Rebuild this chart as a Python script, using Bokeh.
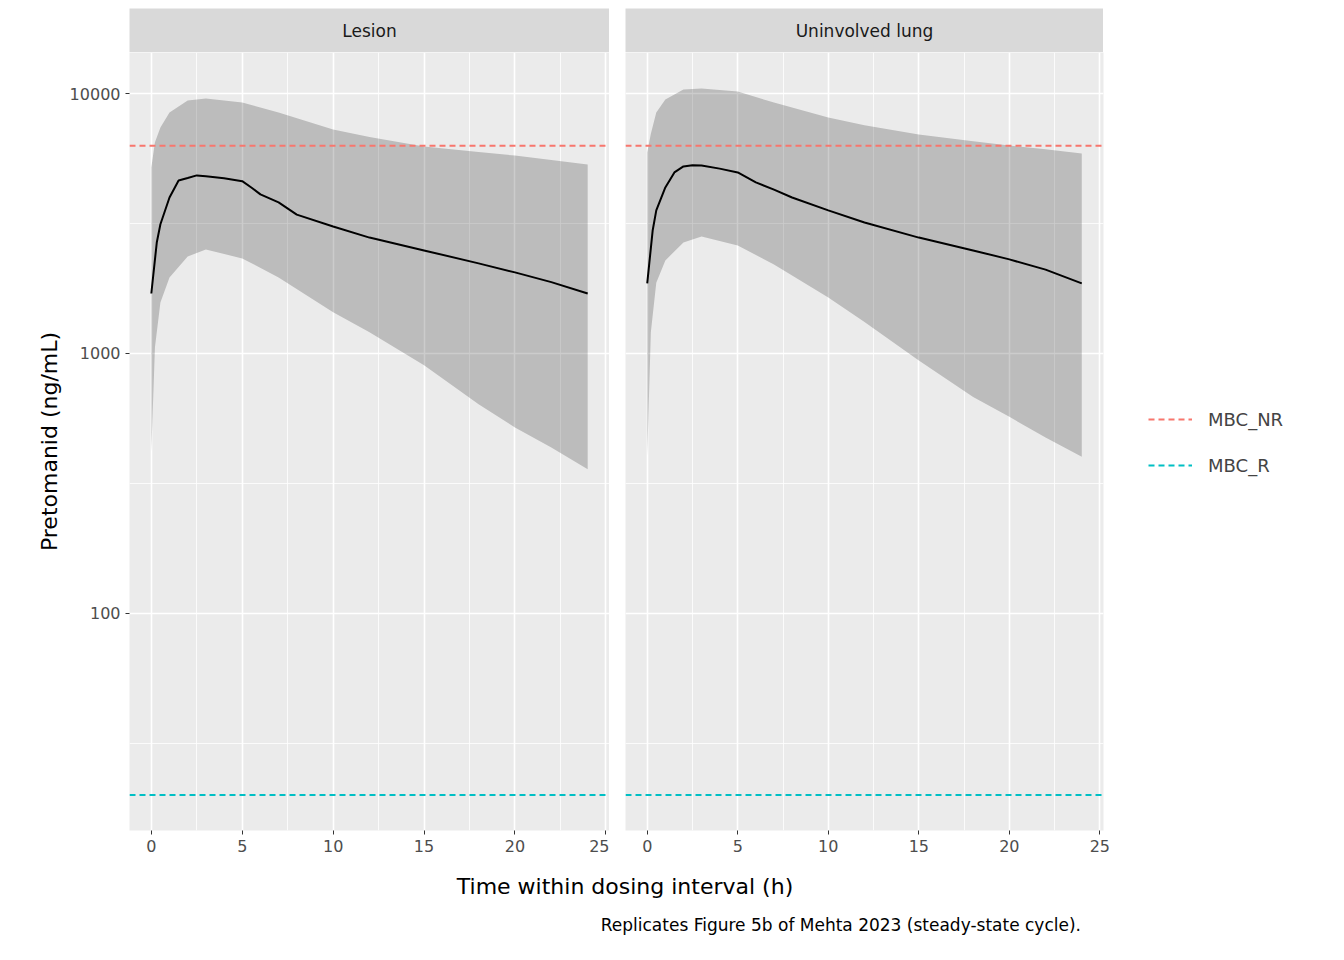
from bokeh.plotting import figure
from bokeh.layouts import row, column
from bokeh.models import (FixedTicker, CustomJSTickFormatter, Span, Legend, LegendItem,
                          Range1d, Div, Spacer, Label)
from bokeh.embed import file_html
from bokeh.resources import INLINE

panels = ["Lesion", "Uninvolved lung"]
mbc_nr = 6300
mbc_r = 20

les_t = [0, 0.3, 0.5, 1, 1.5, 2, 2.5, 3, 4, 5, 5.5, 6, 7, 8, 10, 12, 15, 18, 20, 22, 24]
les_med = [1700, 2670, 3140, 3980, 4630, 4730, 4840, 4800, 4720, 4600, 4350, 4090, 3810, 3420, 3080, 2790, 2490, 2220, 2050, 1880, 1700]
unl_t = [0, 0.3, 0.5, 1, 1.5, 2, 2.5, 3, 4, 5, 6, 7, 8, 10, 12, 15, 18, 20, 22, 24]
unl_med = [1860, 2970, 3550, 4350, 4970, 5240, 5300, 5280, 5140, 4970, 4550, 4270, 3980, 3550, 3190, 2790, 2490, 2300, 2100, 1860]

band_t = [0, 0.2, 0.5, 1, 2, 3, 5, 7, 10, 12, 15, 18, 20, 22, 24]
les_hi = [5190, 6500, 7400, 8450, 9400, 9560, 9230, 8450, 7270, 6800, 6250, 5950, 5770, 5550, 5330]
les_lo = [417, 1055, 1570, 1960, 2360, 2510, 2320, 1960, 1440, 1205, 900, 637, 519, 434, 358]
unl_hi = [5930, 7000, 8450, 9480, 10360, 10450, 10180, 9230, 8090, 7550, 6960, 6550, 6310, 6100, 5880]
unl_lo = [400, 1205, 1870, 2280, 2670, 2820, 2600, 2200, 1640, 1320, 940, 680, 570, 475, 400]

x_ticks = [0, 5, 10, 15, 20, 25]
x_minor = [2.5, 7.5, 12.5, 17.5, 22.5]
y_ticks = [100, 1000, 10000]
y_minor = [10 ** 1.5, 10 ** 2.5, 10 ** 3.5, 10 ** 4.5]

FONT = "DejaVu Sans"

def strip(name, w):
    s = figure(frame_width=w, frame_height=44, x_range=Range1d(0, 1), y_range=Range1d(0, 1),
               output_backend="svg", toolbar_location=None, min_border=0)
    s.axis.visible = False
    s.grid.visible = False
    s.outline_line_color = None
    s.background_fill_color = "#D9D9D9"
    s.add_layout(Label(x=0.5, y=0.5, text=name, text_align="center", text_baseline="middle",
                       text_font=FONT, text_font_size="17px", text_color="#1A1A1A"))
    return s

def make(t, med, hi, lo, first):
    p = figure(frame_width=480 if first else 478, frame_height=778, y_axis_type="log",
               x_range=Range1d(-1.2, 25.2), y_range=Range1d(14.6, 14380),
               output_backend="svg", toolbar_location=None,
               min_border_left=129 if first else 16, min_border_right=0,
               min_border_top=0, min_border_bottom=34)
    p.background_fill_color = "#EBEBEB"
    p.outline_line_color = None
    p.xaxis.ticker = FixedTicker(ticks=x_ticks, minor_ticks=x_minor)
    p.yaxis.ticker = FixedTicker(ticks=y_ticks, minor_ticks=y_minor)
    p.yaxis.formatter = CustomJSTickFormatter(code="return tick.toFixed(0)")
    for ax in [p.xaxis[0], p.yaxis[0]]:
        ax.axis_line_color = None
        ax.major_tick_line_color = "#333333"
        ax.major_tick_in = 0
        ax.major_tick_out = 4
        ax.minor_tick_line_color = None
        ax.major_label_text_font = FONT
        ax.major_label_text_font_size = "16px"
        ax.major_label_text_color = "#4D4D4D"
    p.grid.grid_line_color = "white"
    p.grid.grid_line_width = 1.6
    p.grid.minor_grid_line_color = "white"
    p.grid.minor_grid_line_width = 0.8
    if first:
        p.yaxis.axis_label = "Pretomanid (ng/mL)"
        p.yaxis.axis_label_text_font = FONT
        p.yaxis.axis_label_text_font_size = "22px"
        p.yaxis.axis_label_text_font_style = "normal"
        p.yaxis.axis_label_text_color = "black"
    else:
        p.yaxis.visible = False
    p.varea(x=band_t, y1=lo, y2=hi, fill_color="black", fill_alpha=0.2)
    p.line(t, med, line_color="black", line_width=2)
    p.add_layout(Span(location=mbc_nr, dimension="width", line_color="#F8766D",
                      line_dash="6 4", line_width=2))
    p.add_layout(Span(location=mbc_r, dimension="width", line_color="#00BFC4",
                      line_dash="6 4", line_width=2))
    return p

p1 = make(les_t, les_med, les_hi, les_lo, True)
p2 = make(unl_t, unl_med, unl_hi, unl_lo, False)

r1 = p2.line([0, 1], [100, 100], line_color="#F8766D", line_dash="6 4", line_width=2, visible=False)
r2 = p2.line([0, 1], [100, 100], line_color="#00BFC4", line_dash="6 4", line_width=2, visible=False)
leg = Legend(items=[LegendItem(label="MBC_NR", renderers=[r1]), LegendItem(label="MBC_R", renderers=[r2])],
             location=(45, 342), label_text_font=FONT, label_text_font_size="18px",
             background_fill_color="#EBEBEB", background_fill_alpha=0,
             border_line_color=None, glyph_width=44, glyph_height=46,
             spacing=0, padding=0, margin=0, label_standoff=16)
p2.add_layout(leg, "right")

cap = Div(width=1328, height=70, text=(
    "<div style='position:relative;width:1328px;height:70px;font-family:DejaVu Sans'>"
    "<div style='position:absolute;left:0;width:1240px;text-align:center;top:2px;font-size:22px;color:black'>Time within dosing interval (h)</div>"
    "<div style='position:absolute;right:252px;top:44px;font-size:17px;color:black;white-space:nowrap'>Replicates Figure 5b of Mehta 2023 (steady-state cycle).</div>"
    "</div>"))

strips = row(Spacer(width=129, height=44), strip(panels[0], 480), Spacer(width=16, height=44),
             strip(panels[1], 478), spacing=0)
layout = column(Spacer(width=10, height=8), strips, row(p1, p2, spacing=0), cap, spacing=0)
open("out.html", "w").write(file_html(layout, INLINE))
